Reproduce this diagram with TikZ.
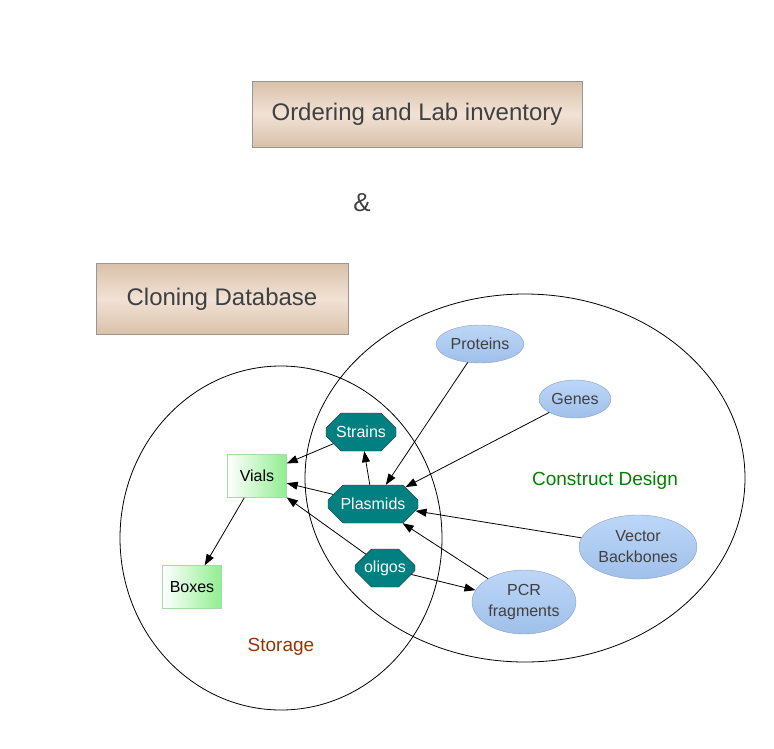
\documentclass[tikz,border=0pt]{standalone}
\usepackage{fontspec}
\setmainfont{Liberation Sans}
\usepackage{tikz}
\usetikzlibrary{arrows.meta,positioning}
\usetikzlibrary{shapes.geometric,shapes.misc}

\definecolor{tanD}{RGB}{217,193,170}
\definecolor{tanL}{RGB}{241,226,213}
\definecolor{boxline}{RGB}{150,150,150}
\definecolor{octfill}{RGB}{0,128,128}
\definecolor{vialgreen}{RGB}{144,238,144}
\definecolor{vialline}{RGB}{165,220,165}
\definecolor{blueT}{RGB}{188,214,247}
\definecolor{blueB}{RGB}{160,192,234}
\definecolor{blueline}{RGB}{140,160,190}
\definecolor{storecol}{RGB}{153,51,0}
\definecolor{designcol}{RGB}{0,128,0}
\definecolor{txtgray}{RGB}{64,64,64}

\tikzset{
    titlebox/.style = {draw = boxline, top color = tanD, bottom color = tanD, middle color = tanL,
        minimum height = 66, inner sep = 0, font = \fontsize{24}{28}\selectfont, text = txtgray},
    octa/.style = {chamfered rectangle, chamfered rectangle xsep = 9, chamfered rectangle ysep = 9,
        draw = black!80, fill = octfill, text = white, minimum height = 38, inner sep = 0,
        font = \fontsize{16}{18}\selectfont},
    vial/.style = {rectangle, draw = vialline, left color = white, right color = vialgreen,
        minimum width = 59, minimum height = 43, inner sep = 0, font = \fontsize{16}{18}\selectfont},
    item/.style = {ellipse, draw = blueline, top color = blueT, bottom color = blueB, text = txtgray,
        inner sep = 0, align = center, font = \fontsize{16}{21}\selectfont},
    link/.style = {-{Triangle[length = 11, width = 8]}, line width = 0.8}
}

\begin{document}
\begin{tikzpicture}[x = 1pt, y = -1pt]
        \useasboundingbox (0,0) rectangle (774,748);

        % Title boxes
        \node[titlebox, minimum width = 330] (order) at (417,114) {Ordering and Lab inventory};
        \node[font = \fontsize{26}{30}\selectfont, text = txtgray] (amp) at (362,203) {\&};
        \node[titlebox, minimum width = 252, minimum height = 71] (cloning) at (222,299) {Cloning Database};

        % Areas
        \draw[line width = 0.8] (281,538) ellipse [x radius = 161, y radius = 172];
        \draw[line width = 0.8] (525,478) ellipse [x radius = 220, y radius = 184];
        \node[font = \fontsize{19}{22}\selectfont, text = storecol] (storage) at (281,647) {Storage};
        \node[font = \fontsize{19}{22}\selectfont, text = designcol] (design) at (605,481) {Construct Design};

        % Storage
        \node[vial] (vials) at (257,476) {Vials};
        \node[vial] (boxes) at (192,587) {Boxes};

        % Shared
        \node[octa, minimum width = 70] (strains) at (361,432) {Strains};
        \node[octa, minimum width = 90] (plasmids) at (373,504) {Plasmids};
        \node[octa, minimum width = 60] (oligos) at (385,568) {oligos};

        % Construct design
        \node[item, minimum width = 88, minimum height = 38] (proteins) at (480,344) {Proteins};
        \node[item, minimum width = 72, minimum height = 38] (genes) at (575,399) {Genes};
        \node[item, minimum width = 118, minimum height = 64] (vector) at (638,547) {Vector\\Backbones};
        \node[item, minimum width = 104, minimum height = 64] (pcr) at (524,602) {PCR\\fragments};

        % Connectors
        \draw[link] (strains) -- (vials);
        \draw[link] (plasmids) -- (vials);
        \draw[link] (oligos) -- (vials);
        \draw[link] (vials) -- (boxes);
        \draw[link] (plasmids) -- (strains);
        \draw[link] (proteins) -- (plasmids);
        \draw[link] (genes) -- (plasmids);
        \draw[link] (vector) -- (plasmids);
        \draw[link] (pcr) -- (plasmids);
        \draw[link] (oligos) -- (pcr);
    \end{tikzpicture}
\end{document}
